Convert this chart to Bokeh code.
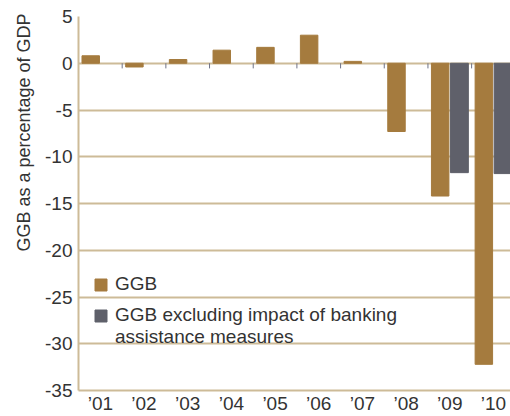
import numpy as np
from bokeh.plotting import figure
from bokeh.models import (ColumnDataSource, Range1d, FixedTicker, Legend, LegendItem, Title)
from bokeh.transform import dodge
from bokeh.embed import file_html
from bokeh.resources import INLINE

# ---- data ----
years = ["’01", "’02", "’03", "’04", "’05", "’06", "’07", "’08", "’09", "’10"]
ggb = [0.8, -0.4, 0.4, 1.4, 1.7, 3.0, 0.2, -7.3, -14.2, -32.2]
ggb_excl = [np.nan, np.nan, np.nan, np.nan, np.nan, np.nan, np.nan, np.nan, -11.7, -11.8]
y_ticks = [-35, -30, -25, -20, -15, -10, -5, 0, 5]
y_label = "GGB as a percentage of GDP"
legend_labels = ["GGB", "GGB excluding impact of banking", "assistance measures"]

GOLD = "#A57B3E"
GREY = "#5F606A"
TAN = "#CDBB98"
TXT = "#333333"
FONT = "Liberation Sans"

xpos = list(range(1, len(years) + 1))
src = ColumnDataSource(dict(x=xpos, ggb=ggb, excl=ggb_excl))
bounds = ColumnDataSource(dict(x=[v + 0.5 for v in xpos[:-1]]))

p = figure(width=510, height=416, output_backend="svg", toolbar_location=None,
           x_range=Range1d(0.5, 10.39), y_range=Range1d(-35, 5),
           min_border_left=78, min_border_top=16, min_border_bottom=20,
           min_border_right=0)
p.outline_line_color = None
p.background_fill_color = "white"

r1 = p.vbar(x=dodge("x", -0.22, range=p.x_range), top="ggb", bottom=0, width=0.4,
            color=GOLD, source=src)
r2 = p.vbar(x=dodge("x", 0.22, range=p.x_range), top="excl", bottom=0, width=0.41,
            color=GREY, source=src)
r_blank = p.vbar(x=[], top=[], width=0.1, fill_alpha=0, line_alpha=0)

# small category-boundary ticks on the zero line
p.segment(x0="x", x1="x", y0=0, y1=-0.55, source=bounds, line_color="#6E7287", line_width=1)

# axes
p.yaxis.ticker = FixedTicker(ticks=y_ticks)
p.yaxis.major_label_overrides = {t: str(t) for t in y_ticks}
p.yaxis.major_label_text_font = FONT
p.yaxis.major_label_text_font_size = "19px"
p.yaxis.major_label_text_color = TXT
p.yaxis.major_tick_line_color = None
p.yaxis.major_tick_out = 0
p.yaxis.major_tick_in = 0
p.yaxis.minor_tick_line_color = None
p.yaxis.axis_line_color = TAN
p.yaxis.axis_line_width = 2
p.yaxis.major_label_standoff = 6

p.xaxis.ticker = FixedTicker(ticks=xpos)
p.xaxis.major_label_overrides = {x: y for x, y in zip(xpos, years)}
p.xaxis.major_label_text_font = FONT
p.xaxis.major_label_text_font_size = "19px"
p.xaxis.major_label_text_color = TXT
p.xaxis.major_tick_line_color = None
p.xaxis.major_tick_out = 0
p.xaxis.major_tick_in = 0
p.xaxis.minor_tick_line_color = None
p.xaxis.axis_line_color = TAN
p.xaxis.axis_line_width = 2
p.xaxis.major_label_standoff = 2

p.xgrid.grid_line_color = None
p.ygrid.ticker = FixedTicker(ticks=y_ticks)
p.ygrid.grid_line_color = TAN
p.ygrid.grid_line_width = 2

ttl = Title(text=y_label, align="right", text_font=FONT, text_font_size="18px",
            text_font_style="normal", text_color=TXT, offset=-3, standoff=17)
p.add_layout(ttl, "left")

def style(lg):
    lg.background_fill_alpha = 0
    lg.border_line_color = None
    lg.label_text_font = FONT
    lg.label_text_font_size = "19px"
    lg.label_text_color = TXT
    lg.glyph_width = 15
    lg.glyph_height = 15
    lg.label_standoff = 7
    lg.label_height = 21
    lg.spacing = 0
    lg.padding = 0
    lg.margin = 0

lg1 = Legend(items=[LegendItem(label=legend_labels[0], renderers=[r1])], location=(15, 95))
lg2 = Legend(items=[LegendItem(label=legend_labels[1], renderers=[r2]),
                    LegendItem(label=legend_labels[2], renderers=[r_blank])],
             location=(15, 42))
style(lg1)
style(lg2)
p.add_layout(lg1, "center")
p.add_layout(lg2, "center")

open("out.html", "w").write(file_html(p, INLINE))
